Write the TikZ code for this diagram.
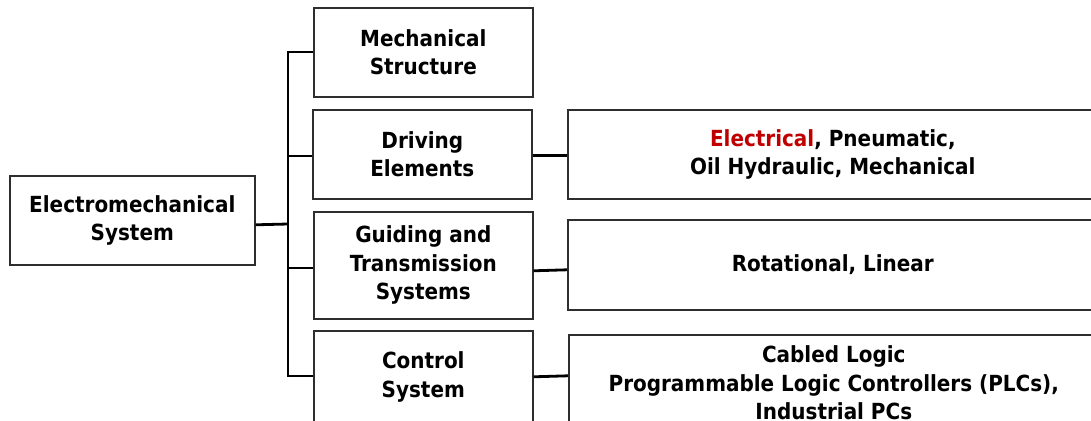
\documentclass[tikz,border=0pt]{standalone}
\usepackage{fontspec}
\setmainfont{DejaVu Sans Condensed}
\usepackage{xcolor}
\definecolor{accentred}{HTML}{C00000}
\definecolor{boxline}{HTML}{2E2E2E}
\begin{document}
\begin{tikzpicture}[x=1pt,y=-1pt,
  box/.style={draw=boxline, line width=1.6pt, fill=white, anchor=north west,
    align=center, inner sep=0pt,
    font=\fontsize{22.2}{28.5}\selectfont\bfseries},
  link/.style={draw=black, line width=2.8pt}]
  \useasboundingbox (0,0) rectangle (1091,420);
  \clip (0,0) rectangle (1091,420);

  % root
  \node[box, minimum width=245pt, minimum height=89pt] (em) at (9,175)
    {Electromechanical\\System};

  % second level
  \node[box, minimum width=219pt, minimum height=89pt] (ms) at (313,7)
    {Mechanical\\Structure};
  \node[box, minimum width=219pt, minimum height=89pt] (de) at (312,109)
    {Driving\\Elements};
  \node[box, minimum width=219pt, minimum height=107pt] (gt) at (313,211)
    {Guiding and\\Transmission\\Systems};
  \node[box, minimum width=219pt, minimum height=92pt] (cs) at (313,330)
    {Control\\System};

  % third level
  \node[box, minimum width=530pt, minimum height=89pt] (el) at (567,109)
    {\textcolor{accentred}{Electrical}, Pneumatic,\\Oil Hydraulic, Mechanical};
  \node[box, minimum width=530pt, minimum height=90pt] (ro) at (567,219)
    {Rotational, Linear};
  \node[box, minimum width=530pt, minimum height=96pt] (cl) at (568,334)
    {Cabled Logic\\Programmable Logic Controllers (PLCs),\\Industrial PCs};

  % tree bus
  \coordinate (b0) at (288,224);
  \coordinate (b1) at (288,52);
  \coordinate (b2) at (288,156);
  \coordinate (b3) at (288,268);
  \coordinate (b4) at (288,376);
  \draw[link] ([yshift=-4.5pt]em.east) -- (b0);
  \draw[link, line cap=rect] (b1) -- (b4);
  \draw[link] (b1) -- (b1 -| ms.west);
  \draw[link] (b2) -- (b2 -| de.west);
  \draw[link] (b3) -- (b3 -| gt.west);
  \draw[link] (b4) -- (b4 -| cs.west);

  % links to the detail boxes
  \draw[link] ([yshift=-1.5pt]de.east) -- ([yshift=-1.5pt]el.west);
  \draw[link] ([yshift=-5.5pt]gt.east) -- ([yshift=-5pt]ro.west);
  \draw[link] (cs.east) -- ([yshift=7pt]cl.west);
\end{tikzpicture}
\end{document}
